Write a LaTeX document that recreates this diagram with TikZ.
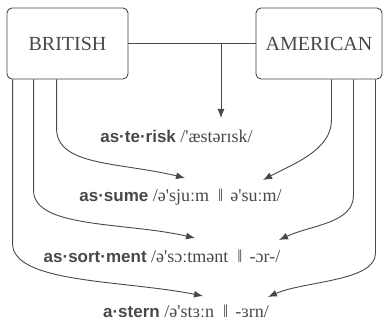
\documentclass[tikz,border=0pt]{standalone}
\usepackage{fontspec}
\setmainfont{Liberation Serif}
\newfontfamily\headfont{Liberation Sans}
\usetikzlibrary{positioning,calc,arrows.meta}
\definecolor{inkgray}{RGB}{72,72,72}
\newcommand{\hw}[1]{{\headfont\bfseries\fontsize{17}{20}\selectfont #1}}
\newcommand{\orsep}{\hspace{0.5em}‖\hspace{0.4em}}
\newcommand{\strs}{\textquotesingle}

\begin{document}
\begin{tikzpicture}[x=1pt, y=1pt, every node/.style={text=inkgray}, >={Latex[length=9pt,width=7pt]}]
  \tikzstyle{lang}=[draw=inkgray, line width=0.9pt, rounded corners=5pt, minimum width=121pt, minimum height=71pt, font=\fontsize{20}{24}\selectfont]
  \tikzstyle{entry}=[font=\fontsize{18}{21}\selectfont, inner sep=0pt, anchor=base]
  \tikzstyle{link}=[draw=inkgray, line width=0.9pt]
  \useasboundingbox (0,0) rectangle (384,323);
  \node[lang] (brit) at (67.5,279.5) {BRITISH};
  \node[lang, minimum width=126pt] (amer) at (319,279.5) {AMERICAN};
  % dictionary entries
  \node[entry] (asterisk) at (176.5,180) {\hw{as·te·risk} /\strs æstərɪsk/};
  \node[entry] (assume) at (180.5,121) {\hw{as·sume} /ə\strs sjuːm\orsep ə\strs suːm/};
  \node[entry] (assort) at (162,60) {\hw{as·sort·ment} /ə\strs sɔːtmənt\orsep -ɔr-/};
  \node[entry] (astern) at (186,5) {\hw{a·stern} /ə\strs stɜːn\orsep -ɜrn/};
  % arrow ends
  \coordinate (tip0) at (221,205);
  \coordinate (bt1) at (185,145);
  \coordinate (bt2) at (195,85);
  \coordinate (bt3) at (203,27);
  \coordinate (at1) at (263,143);
  \coordinate (at2) at (279,83);
  \coordinate (at3) at (268,26);
  % shared spelling
  \draw[link] (brit) -- (amer);
  \draw[link, ->] (brit.east -| tip0) -- (tip0);
  % british side
  \draw[link, ->] ([xshift=50pt]brit.south west) -- ++(0,-49) .. controls +(0,-38) and +(-65,16) .. (bt1);
  \draw[link, ->] ([xshift=27pt]brit.south west) -- ++(0,-111) .. controls +(0,-38) and +(-70,16) .. (bt2);
  \draw[link, ->] ([xshift=6pt]brit.south west) -- ++(0,-164) .. controls +(0,-40) and +(-80,16) .. (bt3);
  % american side
  \draw[link, ->] ([xshift=-51pt]amer.south east) -- ++(0,-41) .. controls +(0,-30) and +(28,15) .. (at1);
  \draw[link, ->] ([xshift=-29pt]amer.south east) -- ++(0,-116) .. controls +(0,-28) and +(32,15) .. (at2);
  \draw[link, ->] ([xshift=-7pt]amer.south east) -- ++(0,-174) .. controls +(0,-28) and +(36,16) .. (at3);
\end{tikzpicture}
\end{document}
